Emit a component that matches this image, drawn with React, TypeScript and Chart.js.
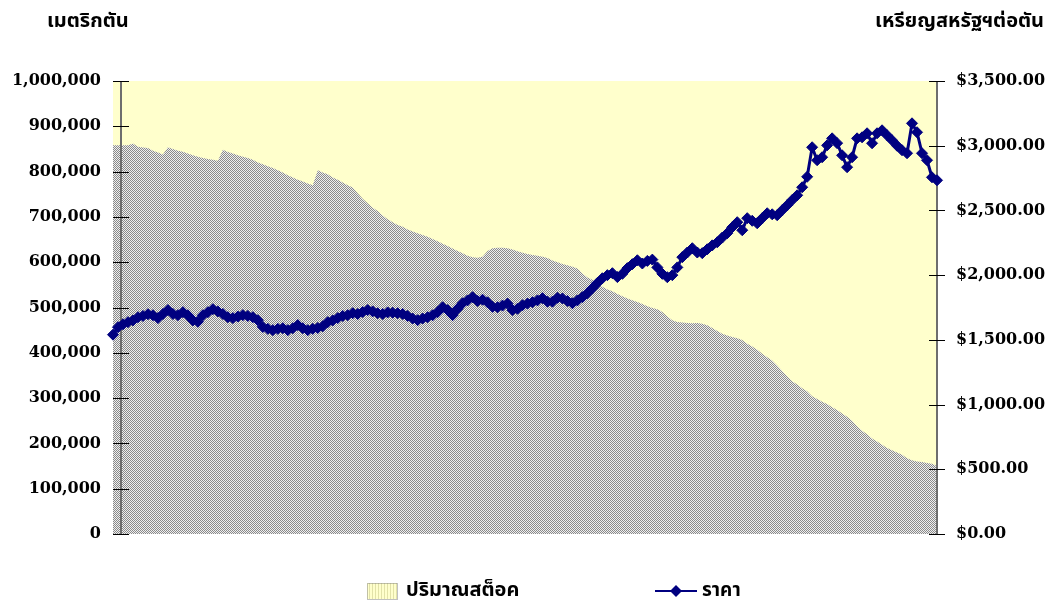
import React, { useEffect, useRef } from "react";
import { Chart, registerables } from "chart.js";
Chart.register(...registerables);

const leftTitle = "เมตริกตัน";
const rightTitle = "เหรียญสหรัฐฯต่อตัน";
const stockLabel = "ปริมาณสต็อค";
const priceLabel = "ราคา";

const stockValues = [
  858000, 858000, 858000, 858000, 862000, 855000, 853000, 852000, 846000, 842000,
  838000, 854000, 850000, 846000, 844000, 840000, 836000, 833000, 830000, 828000,
  826000, 824000, 848000, 843000, 840000, 836000, 833000, 830000, 826000, 820000,
  816000, 812000, 808000, 803000, 798000, 792000, 787000, 782000, 778000, 774000,
  770000, 803000, 798000, 794000, 787000, 782000, 776000, 770000, 765000, 752000,
  740000, 730000, 720000, 713000, 703000, 695000, 688000, 682000, 678000, 672000,
  668000, 664000, 660000, 656000, 651000, 646000, 641000, 636000, 630000, 625000,
  620000, 614000, 611000, 610000, 612000, 625000, 631000, 632000, 632000, 631000,
  628000, 624000, 621000, 618000, 616000, 614000, 612000, 609000, 604000, 600000,
  596000, 593000, 590000, 586000, 575000, 566000, 561000, 553000, 546000, 540000,
  536000, 530000, 525000, 520000, 516000, 512000, 508000, 503000, 499000, 496000,
  490000, 480000, 472000, 468000, 467000, 466000, 465000, 466000, 464000, 461000,
  455000, 448000, 442000, 438000, 435000, 432000, 428000, 420000, 414000, 407000,
  398000, 390000, 383000, 372000, 360000, 348000, 337000, 330000, 322000, 315000,
  304000, 298000, 292000, 287000, 280000, 274000, 266000, 259000, 250000, 238000,
  228000, 220000, 211000, 204000, 197000, 190000, 185000, 180000, 175000, 167000,
  163000, 160000, 159000, 157000, 155000, 150000,
];

const priceValues = [
  1540, 1598, 1620, 1637, 1650, 1675, 1685, 1698, 1690, 1668,
  1700, 1730, 1700, 1691, 1714, 1690, 1650, 1640, 1690, 1714,
  1737, 1720, 1700, 1675, 1668, 1680, 1691, 1685, 1675, 1652,
  1600, 1585, 1575, 1585, 1590, 1575, 1590, 1614, 1590, 1575,
  1585, 1592, 1605, 1637, 1650, 1668, 1685, 1691, 1706, 1700,
  1715, 1730, 1720, 1706, 1700, 1712, 1710, 1706, 1700, 1685,
  1665, 1652, 1665, 1675, 1690, 1714, 1752, 1730, 1691, 1740,
  1783, 1805, 1830, 1800, 1810, 1790, 1755, 1752, 1765, 1780,
  1730, 1740, 1768, 1780, 1791, 1805, 1822, 1795, 1795, 1825,
  1820, 1800, 1783, 1805, 1830, 1860, 1899, 1940, 1976, 2000,
  2015, 1985, 2010, 2054, 2085, 2115, 2090, 2110, 2120, 2060,
  2010, 1984, 2000, 2060, 2139, 2175, 2208, 2175, 2170, 2200,
  2230, 2254, 2290, 2324, 2370, 2409, 2347, 2440, 2420, 2401,
  2440, 2478, 2470, 2463, 2502, 2540, 2580, 2617, 2679, 2760,
  2988, 2888, 2911, 3003, 3057, 3020, 2926, 2834, 2911, 3057,
  3065, 3096, 3019, 3096, 3119, 3081, 3042, 3000, 2965, 2942,
  3173, 3104, 2942, 2888, 2756, 2733,
];

const categories = stockValues.map((_, i) => String(i + 1));

const leftMax = 1000000;
const leftStep = 100000;
const rightMax = 3500;
const rightStep = 500;

const NUM_FONT = "'DejaVu Serif', serif";
const THAI_FONT = "'Noto Sans Thai', Tahoma, 'DejaVu Sans', sans-serif";

function makePattern(): CanvasPattern | string {
  const c = document.createElement("canvas");
  c.width = 2;
  c.height = 2;
  const g = c.getContext("2d");
  if (!g) return "#c0c0c0";
  g.fillStyle = "#efefef";
  g.fillRect(0, 0, 2, 2);
  g.fillStyle = "#8a8a8a";
  g.fillRect(0, 0, 1, 1);
  g.fillRect(1, 1, 1, 1);
  const p = g.createPattern(c, "repeat");
  return p || "#c0c0c0";
}

export default function App() {
  const ref = useRef<HTMLCanvasElement | null>(null);

  useEffect(() => {
    if (!ref.current) return;
    const pattern = makePattern();

    const deco = {
      id: "deco",
      beforeDraw(chart: any) {
        const { ctx, chartArea } = chart;
        ctx.save();
        ctx.fillStyle = "#ffffff";
        ctx.fillRect(0, 0, chart.width, chart.height);
        ctx.fillStyle = "#FFFFCC";
        ctx.fillRect(chartArea.left, chartArea.top, chartArea.right - chartArea.left, chartArea.bottom - chartArea.top);
        ctx.restore();
      },
      afterDatasetDraw(chart: any, args: any) {
        if (args.index !== 0) return;
        const { ctx, chartArea, scales } = chart;
        ctx.save();
        const lx = chartArea.left + 8;
        ctx.strokeStyle = "#6e6e6e";
        ctx.lineWidth = 2;
        ctx.beginPath();
        ctx.moveTo(lx, chartArea.top);
        ctx.lineTo(lx, chartArea.bottom);
        ctx.stroke();
        ctx.strokeStyle = "#000000";
        ctx.lineWidth = 1;
        for (let v = 0; v <= leftMax; v += leftStep) {
          const y = Math.round(scales.y.getPixelForValue(v)) + 0.5;
          ctx.beginPath();
          ctx.moveTo(lx - 8, y);
          ctx.lineTo(lx + 8, y);
          ctx.stroke();
        }
        const rx = chartArea.right;
        ctx.strokeStyle = "#6e6e6e";
        ctx.lineWidth = 2;
        ctx.beginPath();
        ctx.moveTo(rx, chartArea.top);
        ctx.lineTo(rx, chartArea.bottom);
        ctx.stroke();
        ctx.strokeStyle = "#000000";
        ctx.lineWidth = 1;
        for (let v = 0; v <= rightMax; v += rightStep) {
          const y = Math.round(scales.y1.getPixelForValue(v)) + 0.5;
          ctx.beginPath();
          ctx.moveTo(rx - 8, y);
          ctx.lineTo(rx + 8, y);
          ctx.stroke();
        }
        ctx.restore();
      },
      afterDraw(chart: any) {
        const { ctx } = chart;
        ctx.save();
        ctx.fillStyle = "#000000";
        ctx.font = `bold 20px ${THAI_FONT}`;
        ctx.textBaseline = "middle";
        ctx.textAlign = "left";
        ctx.fillText(leftTitle, 47, 23);
        ctx.textAlign = "right";
        ctx.fillText(rightTitle, 1044, 23);

        const sx = 367, sy = 583, sw = 30, sh = 16;
        ctx.fillStyle = "#FFFFCC";
        ctx.fillRect(sx, sy, sw, sh);
        ctx.strokeStyle = "#e2e2a8";
        ctx.lineWidth = 1;
        for (let x = sx + 2; x < sx + sw; x += 3) {
          ctx.beginPath();
          ctx.moveTo(x + 0.5, sy);
          ctx.lineTo(x + 0.5, sy + sh);
          ctx.stroke();
        }
        ctx.setLineDash([1, 1]);
        ctx.strokeStyle = "#808080";
        ctx.strokeRect(sx + 0.5, sy + 0.5, sw, sh);
        ctx.setLineDash([]);
        ctx.fillStyle = "#000000";
        ctx.textAlign = "left";
        ctx.font = `bold 20px ${THAI_FONT}`;
        ctx.fillText(stockLabel, 406, 592);

        ctx.strokeStyle = "#000080";
        ctx.lineWidth = 2;
        ctx.beginPath();
        ctx.moveTo(655, 591);
        ctx.lineTo(697, 591);
        ctx.stroke();
        ctx.fillStyle = "#000080";
        ctx.beginPath();
        ctx.moveTo(676, 585);
        ctx.lineTo(682, 591);
        ctx.lineTo(676, 597);
        ctx.lineTo(670, 591);
        ctx.closePath();
        ctx.fill();
        ctx.fillStyle = "#000000";
        ctx.font = `bold 19px ${THAI_FONT}`;
        ctx.fillText(priceLabel, 702, 592);
        ctx.restore();
      },
    };

    const chart = new Chart(ref.current, {
      type: "line",
      data: {
        labels: categories,
        datasets: [
          {
            label: stockLabel,
            data: stockValues,
            yAxisID: "y",
            fill: "origin",
            backgroundColor: pattern as any,
            borderWidth: 0,
            borderColor: "rgba(0,0,0,0)",
            pointRadius: 0,
            order: 2,
          },
          {
            label: priceLabel,
            data: priceValues,
            yAxisID: "y1",
            borderColor: "#000080",
            backgroundColor: "#000080",
            borderWidth: 3,
            pointStyle: "rectRot",
            pointRadius: 5.5,
            pointBorderWidth: 1,
            pointBorderColor: "#000080",
            pointBackgroundColor: "#000080",
            fill: false,
            clip: false as any,
            order: 1,
          },
        ],
      },
      options: {
        responsive: false,
        animation: false,
        layout: { padding: { top: 81, bottom: 69, left: 0, right: 0 } },
        plugins: {
          legend: { display: false },
          tooltip: { enabled: false },
        },
        scales: {
          x: { type: "category", display: false, offset: false },
          y: {
            position: "left",
            min: 0,
            max: leftMax,
            grid: { display: false, drawTicks: false },
            border: { display: false },
            afterFit(scale: any) {
              scale.width = 113;
            },
            ticks: {
              stepSize: leftStep,
              padding: 12,
              color: "#000000",
              font: { family: NUM_FONT, size: 16, weight: "bold" },
              callback: (v: any) => Number(v).toLocaleString("en-US"),
            },
          },
          y1: {
            position: "right",
            min: 0,
            max: rightMax,
            grid: { display: false, drawTicks: false },
            border: { display: false },
            afterFit(scale: any) {
              scale.width = 116;
            },
            ticks: {
              stepSize: rightStep,
              padding: 19,
              color: "#000000",
              font: { family: NUM_FONT, size: 16, weight: "bold" },
              callback: (v: any) =>
                "$" + Number(v).toLocaleString("en-US", { minimumFractionDigits: 2, maximumFractionDigits: 2 }),
            },
          },
        },
      },
      plugins: [deco],
    });
    return () => chart.destroy();
  }, []);

  return (
    <div style={{ position: "absolute", left: 0, top: 0, width: 1053, height: 603 }}>
      <canvas ref={ref} width={1053} height={603} />
    </div>
  );
}
